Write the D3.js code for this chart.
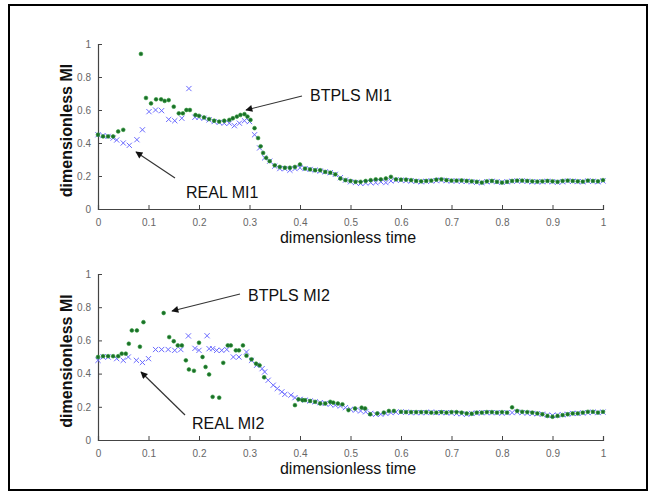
<!DOCTYPE html>
<html><head><meta charset="utf-8">
<script src="https://cdn.jsdelivr.net/npm/d3@7"></script>
<style>
body{margin:0;background:#fff;}
text{font-family:"Liberation Sans",Arial,sans-serif;}
</style></head>
<body><svg id="c" width="655" height="495"></svg>
<script>
// ---- data ----
const xTicks = [0,0.1,0.2,0.3,0.4,0.5,0.6,0.7,0.8,0.9,1];
const yTicks = [0,0.2,0.4,0.6,0.8,1];
const tailT = [0.50,0.51,0.52,0.53,0.54,0.55,0.56,0.57,0.58,0.59,0.60,0.61,0.62,0.63,0.64,0.65,0.66,0.67,0.68,0.69,0.70,0.71,0.72,0.73,0.74,0.75,0.76,0.77,0.78,0.79,0.80,0.81,0.82,0.83,0.84,0.85,0.86,0.87,0.88,0.89,0.90,0.91,0.92,0.93,0.94,0.95,0.96,0.97,0.98,0.99,1.00];
const tailT2 = [0.60,0.61,0.62,0.63,0.64,0.65,0.66,0.67,0.68,0.69,0.70,0.71,0.72,0.73,0.74,0.75,0.76,0.77,0.78,0.79,0.80,0.81,0.82,0.83,0.84,0.85,0.86,0.87,0.88,0.89,0.90,0.91,0.92,0.93,0.94,0.95,0.96,0.97,0.98,0.99,1.00];

// Plot 1: BTPLS MI1 (green dots)
const t1G = [0,0.01,0.02,0.03,0.04,0.05,0.085,0.095,0.105,0.115,0.125,0.132,0.14,0.15,0.16,0.168,0.175,0.182,0.193,0.20,0.21,0.22,0.23,0.24,0.25,0.26,0.267,0.275,0.282,0.29,0.296,0.302,0.31,0.317,0.322,0.327,0.333,0.34,0.35,0.36,0.37,0.38,0.39,0.40,0.41,0.42,0.43,0.44,0.45,0.46,0.47,0.48,0.49].concat(tailT);
const v1G = [0.45,0.44,0.44,0.44,0.47,0.48,0.94,0.673,0.64,0.665,0.665,0.655,0.66,0.62,0.58,0.58,0.60,0.60,0.57,0.565,0.555,0.545,0.535,0.53,0.535,0.54,0.55,0.56,0.57,0.575,0.56,0.54,0.49,0.43,0.38,0.34,0.31,0.29,0.265,0.255,0.25,0.25,0.255,0.27,0.245,0.24,0.235,0.235,0.225,0.22,0.21,0.185,0.175,
  0.17,0.165,0.165,0.17,0.175,0.18,0.18,0.185,0.195,0.18,0.178,0.178,0.175,0.17,0.168,0.17,0.172,0.178,0.18,0.175,0.172,0.172,0.173,0.17,0.168,0.165,0.16,0.168,0.17,0.165,0.16,0.165,0.17,0.172,0.172,0.17,0.168,0.166,0.168,0.17,0.168,0.165,0.17,0.172,0.17,0.168,0.166,0.172,0.17,0.168,0.175];
// Plot 1: REAL MI1 (blue crosses)
const t1B = [0,0.01,0.02,0.03,0.037,0.05,0.062,0.077,0.088,0.101,0.114,0.126,0.14,0.152,0.166,0.18,0.192,0.20,0.21,0.22,0.23,0.24,0.25,0.26,0.27,0.28,0.29,0.30,0.31,0.32,0.33,0.34,0.35,0.36,0.37,0.38,0.39,0.40,0.41,0.42,0.43,0.44,0.45,0.46,0.47,0.48,0.49].concat(tailT);
const v1B = [0.45,0.445,0.44,0.43,0.418,0.40,0.386,0.42,0.48,0.59,0.60,0.596,0.543,0.535,0.55,0.73,0.556,0.555,0.55,0.54,0.53,0.525,0.52,0.52,0.505,0.52,0.535,0.53,0.45,0.37,0.31,0.29,0.26,0.245,0.245,0.235,0.245,0.25,0.245,0.24,0.235,0.23,0.225,0.22,0.21,0.19,0.175,
  0.165,0.16,0.155,0.158,0.16,0.16,0.165,0.16,0.17,0.175,0.175,0.172,0.17,0.168,0.165,0.168,0.17,0.172,0.175,0.172,0.17,0.17,0.168,0.168,0.165,0.162,0.16,0.165,0.168,0.165,0.162,0.165,0.168,0.17,0.17,0.168,0.165,0.165,0.165,0.168,0.165,0.162,0.165,0.17,0.168,0.166,0.165,0.17,0.168,0.165,0.17];

// Plot 2: BTPLS MI2 (green dots)
const t2G = [0,0.01,0.02,0.03,0.04,0.047,0.055,0.061,0.067,0.077,0.083,0.09,0.13,0.141,0.15,0.158,0.166,0.174,0.18,0.19,0.20,0.207,0.213,0.22,0.227,0.24,0.248,0.257,0.263,0.273,0.279,0.287,0.294,0.304,0.313,0.32,0.329,0.39,0.397,0.405,0.41,0.42,0.43,0.44,0.45,0.46,0.466,0.475,0.484,0.496,0.509,0.522,0.529,0.539,0.553,0.566,0.576,0.586].concat(tailT2);
const v2G = [0.50,0.505,0.505,0.505,0.505,0.52,0.52,0.58,0.66,0.66,0.562,0.71,0.765,0.62,0.595,0.57,0.57,0.48,0.425,0.417,0.586,0.50,0.44,0.395,0.26,0.255,0.465,0.57,0.57,0.54,0.54,0.57,0.508,0.486,0.46,0.45,0.378,0.21,0.245,0.24,0.24,0.235,0.23,0.22,0.22,0.23,0.225,0.22,0.215,0.18,0.19,0.195,0.19,0.155,0.16,0.165,0.175,0.175,
  0.17,0.168,0.168,0.168,0.168,0.168,0.165,0.165,0.168,0.165,0.168,0.168,0.165,0.16,0.158,0.165,0.165,0.168,0.168,0.165,0.168,0.165,0.197,0.175,0.17,0.168,0.165,0.16,0.155,0.145,0.14,0.145,0.15,0.155,0.16,0.16,0.165,0.17,0.17,0.165,0.17];
// Plot 2: REAL MI2 (blue crosses)
const t2B = [0,0.01,0.02,0.037,0.05,0.06,0.076,0.088,0.10,0.114,0.126,0.139,0.152,0.164,0.179,0.192,0.20,0.216,0.22,0.227,0.235,0.245,0.255,0.268,0.279,0.294,0.304,0.314,0.325,0.33,0.337,0.347,0.355,0.364,0.37,0.382,0.39,0.40,0.41,0.42,0.43,0.44,0.45,0.46,0.47,0.48,0.49,0.50,0.51,0.52,0.53,0.54,0.55,0.56,0.57,0.58,0.59].concat(tailT2);
const v2B = [0.48,0.50,0.50,0.49,0.48,0.50,0.48,0.467,0.49,0.545,0.545,0.545,0.54,0.545,0.627,0.552,0.54,0.628,0.55,0.55,0.54,0.54,0.545,0.50,0.50,0.53,0.48,0.45,0.43,0.41,0.36,0.33,0.31,0.29,0.275,0.27,0.255,0.245,0.24,0.235,0.23,0.225,0.22,0.215,0.21,0.205,0.195,0.185,0.18,0.175,0.17,0.16,0.155,0.155,0.16,0.165,0.168,
  0.168,0.168,0.165,0.165,0.165,0.165,0.168,0.165,0.165,0.165,0.163,0.16,0.158,0.155,0.16,0.162,0.165,0.165,0.165,0.165,0.162,0.165,0.165,0.168,0.165,0.162,0.16,0.158,0.155,0.15,0.148,0.15,0.152,0.155,0.16,0.16,0.163,0.165,0.168,0.165,0.168];

const panels = [
  {tG:t1G, vG:v1G, tB:t1B, vB:v1B, top:44, bottom:209,
   ann:[{text:"BTPLS MI1", tx:310, ty:101, x1:302, y1:96, x2:246, y2:110},
        {text:"REAL MI1", tx:186, ty:198, x1:175, y1:178, x2:136, y2:152}]},
  {tG:t2G, vG:v2G, tB:t2B, vB:v2B, top:274, bottom:440,
   ann:[{text:"BTPLS MI2", tx:248, ty:301, x1:240, y1:294, x2:172, y2:311},
        {text:"REAL MI2", tx:192, ty:429, x1:185, y1:415, x2:141, y2:372}]}
];

const svg = d3.select("#c");
svg.append("rect").attr("x",9).attr("y",5).attr("width",638).attr("height",485)
  .attr("fill","none").attr("stroke","#000").attr("stroke-width",2);

const defs = svg.append("defs");
defs.append("marker").attr("id","ah").attr("viewBox","0 0 10 10").attr("refX",9).attr("refY",5)
  .attr("markerWidth",9).attr("markerHeight",7).attr("markerUnits","userSpaceOnUse").attr("orient","auto")
  .append("path").attr("d","M0,0 L10,5 L0,10 z").attr("fill","#111");

const x = d3.scaleLinear().domain([0,1]).range([98,603]);

panels.forEach(p=>{
  const y = d3.scaleLinear().domain([0,1]).range([p.bottom,p.top]);
  const g = svg.append("g");
  // axes
  const xa = g.append("g").attr("transform",`translate(0,${p.bottom})`)
    .call(d3.axisBottom(x).tickValues(xTicks).tickSize(-4).tickPadding(10).tickFormat(d3.format("")));
  const ya = g.append("g").attr("transform",`translate(98,0)`)
    .call(d3.axisLeft(y).tickValues(yTicks).tickSize(-4).tickPadding(7).tickFormat(d3.format("")));
  [xa,ya].forEach(a=>{
    a.select(".domain").attr("stroke","#444").attr("stroke-width",1.2);
    a.selectAll(".tick line").attr("stroke","#444");
    a.selectAll(".tick text").attr("fill","#666").style("font-size","10px")
      .style("font-family","'Liberation Sans',Arial,sans-serif");
  });
  // titles
  g.append("text").attr("x",348).attr("y",p.bottom+34).attr("text-anchor","middle")
    .style("font-size","16px").attr("fill","#111").text("dimensionless time");
  g.append("text").attr("transform",`translate(72,${(p.top+p.bottom)/2+4}) rotate(-90)`)
    .attr("text-anchor","middle").style("font-size","16px").style("font-weight","bold")
    .attr("fill","#111").text("dimensionless MI");
  // blue crosses
  const bd = p.tB.map((t,i)=>[t,p.vB[i]]);
  g.append("g").selectAll("path").data(bd).join("path")
    .attr("d",d=>{const cx=x(d[0]),cy=y(d[1]),s=2.6;return `M${cx-s},${cy-s}L${cx+s},${cy+s}M${cx-s},${cy+s}L${cx+s},${cy-s}`;})
    .attr("stroke","#6a6aff").attr("stroke-width",1).attr("fill","none");
  // green dots
  const gd = p.tG.map((t,i)=>[t,p.vG[i]]);
  g.append("g").selectAll("circle").data(gd).join("circle")
    .attr("cx",d=>x(d[0])).attr("cy",d=>y(d[1])).attr("r",1.9)
    .attr("fill","#1b6e28").attr("stroke","#2f9a3a").attr("stroke-width",0.6);
  // annotations
  p.ann.forEach(a=>{
    g.append("line").attr("x1",a.x1).attr("y1",a.y1).attr("x2",a.x2).attr("y2",a.y2)
      .attr("stroke","#333").attr("stroke-width",1.2).attr("marker-end","url(#ah)");
    g.append("text").attr("x",a.tx).attr("y",a.ty).style("font-size","16px")
      .attr("fill","#111").text(a.text);
  });
});
</script></body></html>
